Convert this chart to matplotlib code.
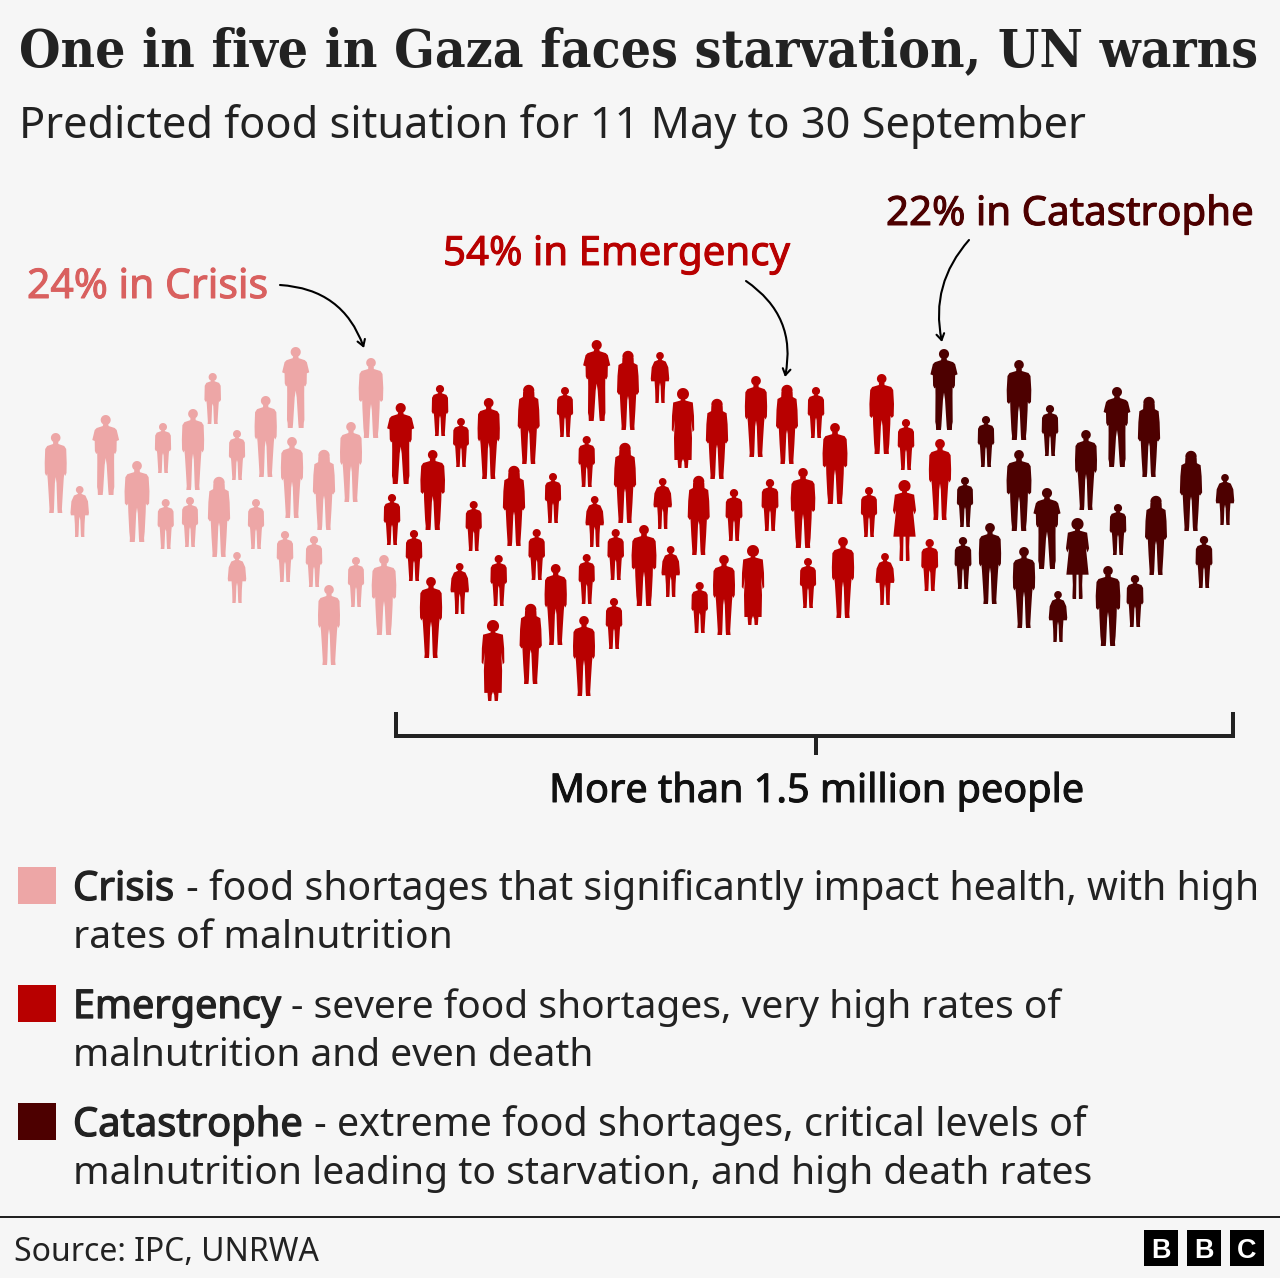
import numpy as np
import matplotlib
matplotlib.use("Agg")
import matplotlib.pyplot as plt
import matplotlib.patheffects as pe
from matplotlib.path import Path
from matplotlib.patches import Rectangle

TITLE = "One in five in Gaza faces starvation, UN warns"
SUBTITLE = "Predicted food situation for 11 May to 30 September"
SOURCE = "Source: IPC, UNRWA"
BRACKET_LABEL = "More than 1.5 million people"

# people: centre x, top y, bottom y and silhouette kind
crisis_x = [55.7, 79.7, 105.7, 137, 163, 165.7, 190, 193, 212.7, 219, 237, 237, 256, 265.7, 285, 295.7, 292, 314, 324, 329, 351, 356, 371, 384]
crisis_top = [433, 486, 415, 461, 423, 499, 497, 409, 373, 476, 430, 552, 499, 396, 531, 347, 437, 536, 449, 585, 422, 557, 358, 555]
crisis_bottom = [513, 537, 495, 542, 473, 549, 547, 490, 424, 557, 480, 603, 549, 477, 582, 428, 518, 587, 530, 665, 502, 607, 438, 635]
crisis_kind = "MCTSKKKMKLKCKMKTMKLMMKSS"

emergency_x = [400.7, 392, 414, 432.7, 431, 440, 461, 488.7, 473.7, 459.7, 528.7, 565, 586.7, 514, 553, 536.7, 498.7, 555.7,
               586.7, 614, 530.7, 493, 584, 596.7, 628, 660, 683, 717, 756, 787, 816, 835, 625, 594.7, 615.7, 662.7, 644, 670.7,
               698.7, 734, 770, 803, 699.7, 724, 753, 808, 843, 881.7, 906, 940, 869, 903.7, 885, 929.7]
emergency_top = [403, 494, 530, 450, 577, 385, 418, 398, 501, 563, 384, 387, 436, 465, 473, 529, 555, 564,
                 554, 598, 603, 620, 616, 340, 350, 352, 388, 398, 376, 384, 387, 423, 442, 496, 529, 478, 525, 546,
                 475, 489, 479, 468, 582, 555, 545, 558, 537, 374, 419, 439, 487, 479, 553, 539]
emergency_bottom = [484, 545, 581, 530, 658, 436, 467, 479, 551, 614, 464, 437, 487, 546, 523, 580, 606, 645,
                    604, 649, 684, 701, 696, 421, 430, 403, 468, 479, 457, 464, 438, 504, 523, 547, 580, 529, 606, 597,
                    555, 541, 531, 548, 633, 635, 625, 608, 618, 454, 470, 520, 537, 560, 605, 591]
emergency_kind = "TKKSMKKMKCLKKLKKKMKKLDMTLCDLMLKSLCKCSCLKKSKMDKMSKMKECK"

catastrophe_x = [944, 986, 1019, 1050, 1117, 1149, 1086, 1019, 965, 1047, 963, 990, 1077, 1118, 1156, 1191, 1225, 1024, 1204, 1058, 1108, 1135]
catastrophe_top = [349, 416, 360, 405, 387, 396, 430, 450, 477, 488, 537, 523, 517, 504, 495, 450, 474, 547, 536, 591, 566, 575]
catastrophe_bottom = [430, 467, 440, 456, 467, 477, 510, 531, 527, 569, 589, 604, 598, 555, 575, 531, 525, 628, 588, 642, 646, 627]
catastrophe_kind = "TKSKTLMSKTKMEKLLCMKCSK"

callout_labels = ["24% in Crisis", "54% in Emergency", "22% in Catastrophe"]
legend_names = ["Crisis", "Emergency", "Catastrophe"]
legend_first = ["- food shortages that significantly impact health, with high",
                "- severe food shortages, very high rates of",
                "- extreme food shortages, critical levels of"]
legend_second = ["rates of malnutrition",
                 "malnutrition and even death",
                 "malnutrition leading to starvation, and high death rates"]
colors = ["#EDA6A6", "#B80000", "#4D0000"]
label_colors = ["#D9605F", "#B80000", "#4D0000"]
INK = "#222222"
BG = "#F6F6F6"
BODY = "Noto Sans"


def silhouette(r, cy, body):
    """Closed figure from a head (radius, centre) and a right-hand outline, in 80-unit height."""
    first = body[0]
    start = np.arcsin(np.clip((first[1] - cy) / r, -1, 1))
    ang = np.linspace(-np.pi / 2, min(start, np.pi * 0.45), 14)
    head = [(r * np.cos(a), cy + r * np.sin(a)) for a in ang]
    right = head + list(body)
    left = [(-x, y) for x, y in reversed(right) if x > 0]
    pts = right + left
    verts = [(x / 40.0, 1 - y / 40.0) for x, y in pts]
    verts.append(verts[0])
    codes = [Path.MOVETO] + [Path.LINETO] * (len(verts) - 2) + [Path.CLOSEPOLY]
    return Path(verts, codes)


KINDS = {
    "M": silhouette(4.8, 4.8, [(2.6, 9), (2.6, 11), (8.5, 13), (10.5, 16), (11, 30), (10.8, 40), (9.5, 43), (8.5, 41), (8, 46),
                               (7, 62), (6.2, 76), (6.6, 80), (2, 80), (1.7, 76), (0.8, 50), (0, 44)]),
    "S": silhouette(4.8, 4.8, [(2.8, 9), (2.8, 11), (9.5, 13), (11.5, 16), (12.3, 30), (12, 42), (10, 44), (8.8, 42), (8.6, 50),
                               (7.6, 70), (7, 76), (7.2, 80), (2.2, 80), (1.9, 76), (0.8, 52), (0, 46)]),
    "T": silhouette(5.0, 5.0, [(2.8, 9.5), (2.8, 11), (9, 13), (11, 15), (13.4, 25), (11, 26), (10.8, 36), (9.5, 39), (8.5, 38), (8.4, 46),
                               (8.6, 72), (8, 75), (7.8, 80), (3, 80), (2.6, 76), (1, 50), (0, 43)]),
    "L": silhouette(5.6, 6.4, [(5.6, 8), (5.8, 13), (9.5, 15), (10.5, 26), (11, 42), (9, 45), (8.2, 44), (7.4, 60), (6.4, 76), (6.6, 80),
                               (2.2, 80), (1.8, 76), (0.7, 50), (0, 46)]),
    "D": silhouette(6.0, 6.0, [(2.4, 11), (2.4, 12.5), (9.8, 14.5), (11, 28), (11.2, 42), (9.6, 44), (8.2, 32), (9, 50), (8.6, 72),
                               (5.4, 72), (5, 78), (4.8, 80), (1.6, 80), (1.2, 74), (0, 71)]),
    "E": silhouette(6.0, 6.0, [(2.4, 11), (2.4, 12.5), (9.5, 14.5), (11.4, 30), (10, 34), (8.4, 30), (11, 56), (5, 56), (4.6, 66),
                               (5, 78), (4.8, 80), (1.4, 80), (1.2, 66), (1, 56), (0, 56)]),
    "C": silhouette(6.0, 6.0, [(3, 11), (3, 12.5), (9, 15), (13, 24), (14.5, 42), (13.8, 46), (11.5, 46), (8.5, 46), (7.6, 60), (7.2, 76),
                               (7.4, 80), (2.2, 80), (1.8, 76), (1, 54), (0, 48)]),
    "K": silhouette(6.4, 6.4, [(3, 11.5), (3, 13), (10, 15.5), (12.5, 20), (13, 42), (11, 45.5), (9.8, 44), (9.2, 50), (7.6, 76), (8, 80),
                               (2.2, 80), (1.9, 76), (0.9, 52), (0, 48)]),
}

W, H = 1280, 1278
DPI = 100
PX = 72.0 / DPI
fig = plt.figure(figsize=(W / DPI, H / DPI), dpi=DPI, facecolor=BG)
ax = fig.add_axes([0, 0, 1, 1])
ax.set_xlim(0, W)
ax.set_ylim(H, 0)
ax.axis("off")

series = [(crisis_x, crisis_top, crisis_bottom, crisis_kind),
          (emergency_x, emergency_top, emergency_bottom, emergency_kind),
          (catastrophe_x, catastrophe_top, catastrophe_bottom, catastrophe_kind)]
for (xs, tops, bots, kinds), col in zip(series, colors):
    xs, tops, bots = np.array(xs, float), np.array(tops, float), np.array(bots, float)
    kinds = np.array(list(kinds))
    for k, marker in KINDS.items():
        m = kinds == k
        if m.any():
            ax.scatter(xs[m], (tops[m] + bots[m]) / 2, s=((bots[m] - tops[m]) * PX) ** 2,
                       marker=marker, color=col, linewidths=0, zorder=3)

renderer = fig.canvas.get_renderer()


def txt(x, y, s, width=None, size=40, embolden=0, **kw):
    t = ax.text(x, y, s, va="baseline", ha=kw.pop("ha", "left"), fontsize=size * PX, **kw)
    if width is not None:
        w = t.get_window_extent(renderer).width
        t.set_fontsize(size * PX * width / w)
    if embolden:
        t.set_path_effects([pe.withStroke(linewidth=embolden * PX, foreground=t.get_color())])
    return t


txt(19, 66, TITLE, width=1240, family="DejaVu Serif", stretch="condensed", weight="bold", color=INK)
txt(19, 138, SUBTITLE, width=1067, family=BODY, color=INK)

txt(27, 298, callout_labels[0], width=241, embolden=1.0, family=BODY, color=label_colors[0])
txt(443, 265, callout_labels[1], width=347, embolden=1.0, family=BODY, color=label_colors[1])
txt(886, 225, callout_labels[2], width=368, embolden=1.0, family=BODY, color=label_colors[2])

arrow = dict(arrowstyle="->,head_length=0.45,head_width=0.28", color="black", lw=1.5, shrinkA=0, shrinkB=0)
for start, end, rad in [((280, 285), (364, 348), -0.33), ((746, 281), (785, 377), -0.33), ((969, 240), (942, 342), 0.25)]:
    ax.annotate("", xy=end, xytext=start, arrowprops=dict(arrow, connectionstyle=f"arc3,rad={rad}"))

ax.plot([396, 396, 1233, 1233], [712, 736, 736, 712], color=INK, lw=4 * PX, solid_joinstyle="miter", solid_capstyle="butt")
ax.plot([816, 816], [736, 755], color=INK, lw=4 * PX, solid_capstyle="butt")
txt(816.5, 802, BRACKET_LABEL, width=535, ha="center", embolden=1.0, family=BODY, color="#111111")

name_w = [101, 208, 230]
first_x = [186, 291, 314]
first_end = [1261, 1062, 1086]
second_end = [453, 595, 1094]
for i, y in enumerate([900, 1018, 1136]):
    ax.add_patch(Rectangle((18, y - 33), 38, 37, facecolor=colors[i], edgecolor="none"))
    txt(73, y, legend_names[i], width=name_w[i], embolden=1.3, family=BODY, color=INK)
    txt(first_x[i], y, legend_first[i], width=first_end[i] - first_x[i], family=BODY, color=INK)
    txt(73, y + 48, legend_second[i], width=second_end[i] - 73, family=BODY, color=INK)

ax.plot([0, W], [1217, 1217], color=INK, lw=2 * PX, solid_capstyle="butt")
txt(14, 1261, SOURCE, width=305, family=BODY, color=INK)
for x0, letter in zip([1144, 1187, 1230], "BBC"):
    ax.add_patch(Rectangle((x0, 1230), 34, 36, facecolor="black", edgecolor="none"))
    ax.text(x0 + 17, 1248.5, letter, ha="center", va="center_baseline", color="white",
            fontsize=27 * PX, family="Liberation Sans", weight="bold")

fig.savefig("out.png", dpi=DPI, facecolor=BG)
